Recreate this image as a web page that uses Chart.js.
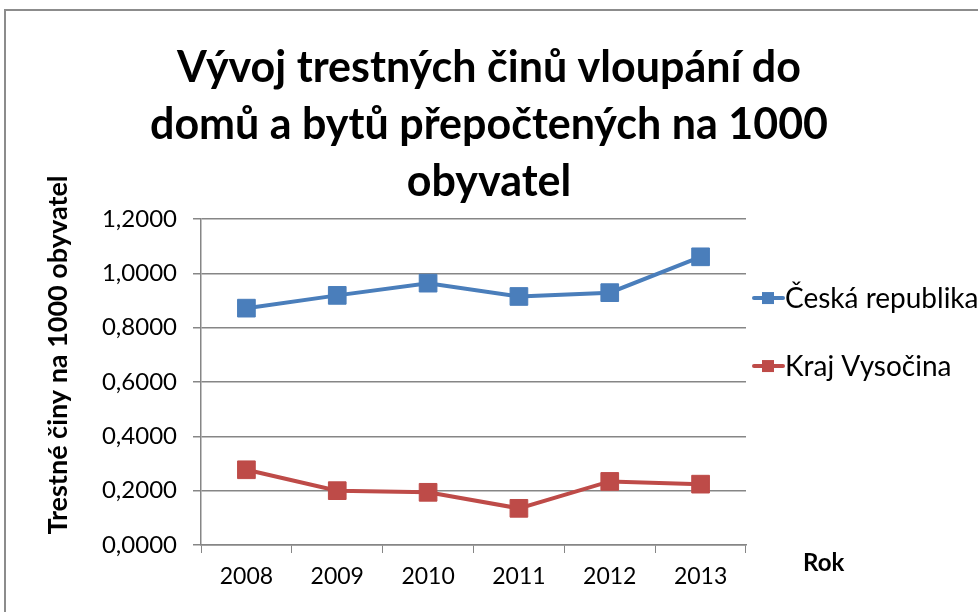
<!DOCTYPE html>
<html>
<head>
<meta charset="utf-8">
<script src="https://cdn.jsdelivr.net/npm/chart.js@4.4.1/dist/chart.umd.min.js"></script>
<style>
  html, body { margin: 0; padding: 0; background: #fff; }
  #wrap { width: 978px; height: 612px; position: relative; }
</style>
</head>
<body>
<div id="wrap"><canvas id="graf"></canvas></div>
<script>
// data
const roky = ['2008', '2009', '2010', '2011', '2012', '2013'];
const ceskaRepublika = [0.872, 0.919, 0.964, 0.915, 0.929, 1.061];
const krajVysocina = [0.277, 0.200, 0.194, 0.135, 0.234, 0.224];
const nadpis = ['Vývoj trestných činů vloupání do', 'domů a bytů přepočtených na 1000', 'obyvatel'];
const popisY = 'Trestné činy na 1000 obyvatel';
const popisX = 'Rok';

const pismo = 'Lato, "Noto Sans", sans-serif';
const modra = '#4A7EBB';
const cervena = '#BE4B48';

// ramecek kolem grafu
const ramecek = {
    id: 'ramecek',
    beforeDraw(chart) {
        const ctx = chart.ctx;
        ctx.save();
        ctx.strokeStyle = '#8c8c8c';
        ctx.lineWidth = 2;
        ctx.strokeRect(5, 10, chart.width + 50, chart.height + 50);
        ctx.restore();
    }
};

// legenda vpravo (cara + ctverec), popisky os
const legendaAPopisky = {
    id: 'legendaAPopisky',
    afterDraw(chart) {
        const ctx = chart.ctx;
        const area = chart.chartArea;
        ctx.save();
        const x0 = area.right + 6;
        const y0 = area.top + 79;
        chart.data.datasets.forEach((ds, i) => {
            const y = y0 + i * 68;
            ctx.strokeStyle = ds.borderColor;
            ctx.lineWidth = 4;
            ctx.lineCap = 'round';
            ctx.beginPath();
            ctx.moveTo(x0 + 2, y);
            ctx.lineTo(x0 + 31, y);
            ctx.stroke();
            ctx.fillStyle = ds.pointBackgroundColor;
            ctx.fillRect(x0 + 10, y - 6, 12, 12);
            ctx.fillStyle = '#000';
            ctx.font = '28px ' + pismo;
            ctx.textBaseline = 'middle';
            ctx.textAlign = 'left';
            ctx.fillText(ds.label, x0 + 33, y + 1);
        });

        // "Rok" vpravo od osy x
        ctx.font = 'bold 24px ' + pismo;
        ctx.textAlign = 'left';
        ctx.textBaseline = 'middle';
        ctx.fillStyle = '#000';
        ctx.fillText(popisX, area.right + 57, area.bottom + 18);

        // svisly popisek osy y
        ctx.translate(67, (area.top + area.bottom) / 2 - 27);
        ctx.rotate(-Math.PI / 2);
        ctx.font = 'bold 27px ' + pismo;
        ctx.textAlign = 'center';
        ctx.textBaseline = 'alphabetic';
        ctx.fillText(popisY, 0, 0);
        ctx.restore();
    }
};

new Chart(document.getElementById('graf'), {
    type: 'line',
    data: {
        labels: roky,
        datasets: [
            {
                label: 'Česká republika',
                data: ceskaRepublika,
                borderColor: modra,
                backgroundColor: modra,
                pointBackgroundColor: modra,
                pointBorderColor: modra,
                borderWidth: 4,
                pointStyle: 'rect',
                pointRadius: 12.5,
                pointHoverRadius: 12.5,
                pointBorderWidth: 1,
                tension: 0
            },
            {
                label: 'Kraj Vysočina',
                data: krajVysocina,
                borderColor: cervena,
                backgroundColor: cervena,
                pointBackgroundColor: cervena,
                pointBorderColor: cervena,
                borderWidth: 4,
                pointStyle: 'rect',
                pointRadius: 12.5,
                pointHoverRadius: 12.5,
                pointBorderWidth: 1,
                tension: 0
            }
        ]
    },
    options: {
        responsive: true,
        maintainAspectRatio: false,
        animation: false,
        layout: {
            padding: 0
        },
        plugins: {
            legend: { display: false },
            tooltip: { enabled: false },
            title: {
                display: true,
                text: nadpis,
                color: '#000',
                font: { family: pismo, size: 43, weight: 'bold', lineHeight: 1.326 },
                padding: { top: 40, bottom: 8 }
            }
        },
        scales: {
            x: {
                offset: true,
                grid: {
                    offset: true,
                    drawOnChartArea: false,
                    drawTicks: true,
                    tickLength: 8,
                    color: '#868686'
                },
                border: { color: '#868686', width: 1.5 },
                ticks: {
                    color: '#000',
                    font: { family: pismo, size: 23 },
                    padding: 10,
                    maxRotation: 0
                },
                afterFit(scale) { scale.height = 67; }
            },
            y: {
                min: 0,
                max: 1.2,
                ticks: {
                    stepSize: 0.2,
                    color: '#000',
                    font: { family: pismo, size: 24 },
                    padding: 16,
                    callback: v => v.toFixed(4).replace('.', ',')
                },
                grid: {
                    color: '#868686',
                    lineWidth: 1.5,
                    tickLength: 8
                },
                border: { color: '#868686', width: 1.5 },
                afterFit(scale) { scale.width = 201; }
            },
            // prazdna osa vpravo jen drzi misto pro legendu
            misto: {
                type: 'linear',
                position: 'right',
                display: true,
                grid: { display: false },
                ticks: { display: false },
                border: { display: false },
                afterFit(scale) { scale.width = 232; }
            }
        }
    },
    plugins: [ramecek, legendaAPopisky]
});
</script>
</body>
</html>
